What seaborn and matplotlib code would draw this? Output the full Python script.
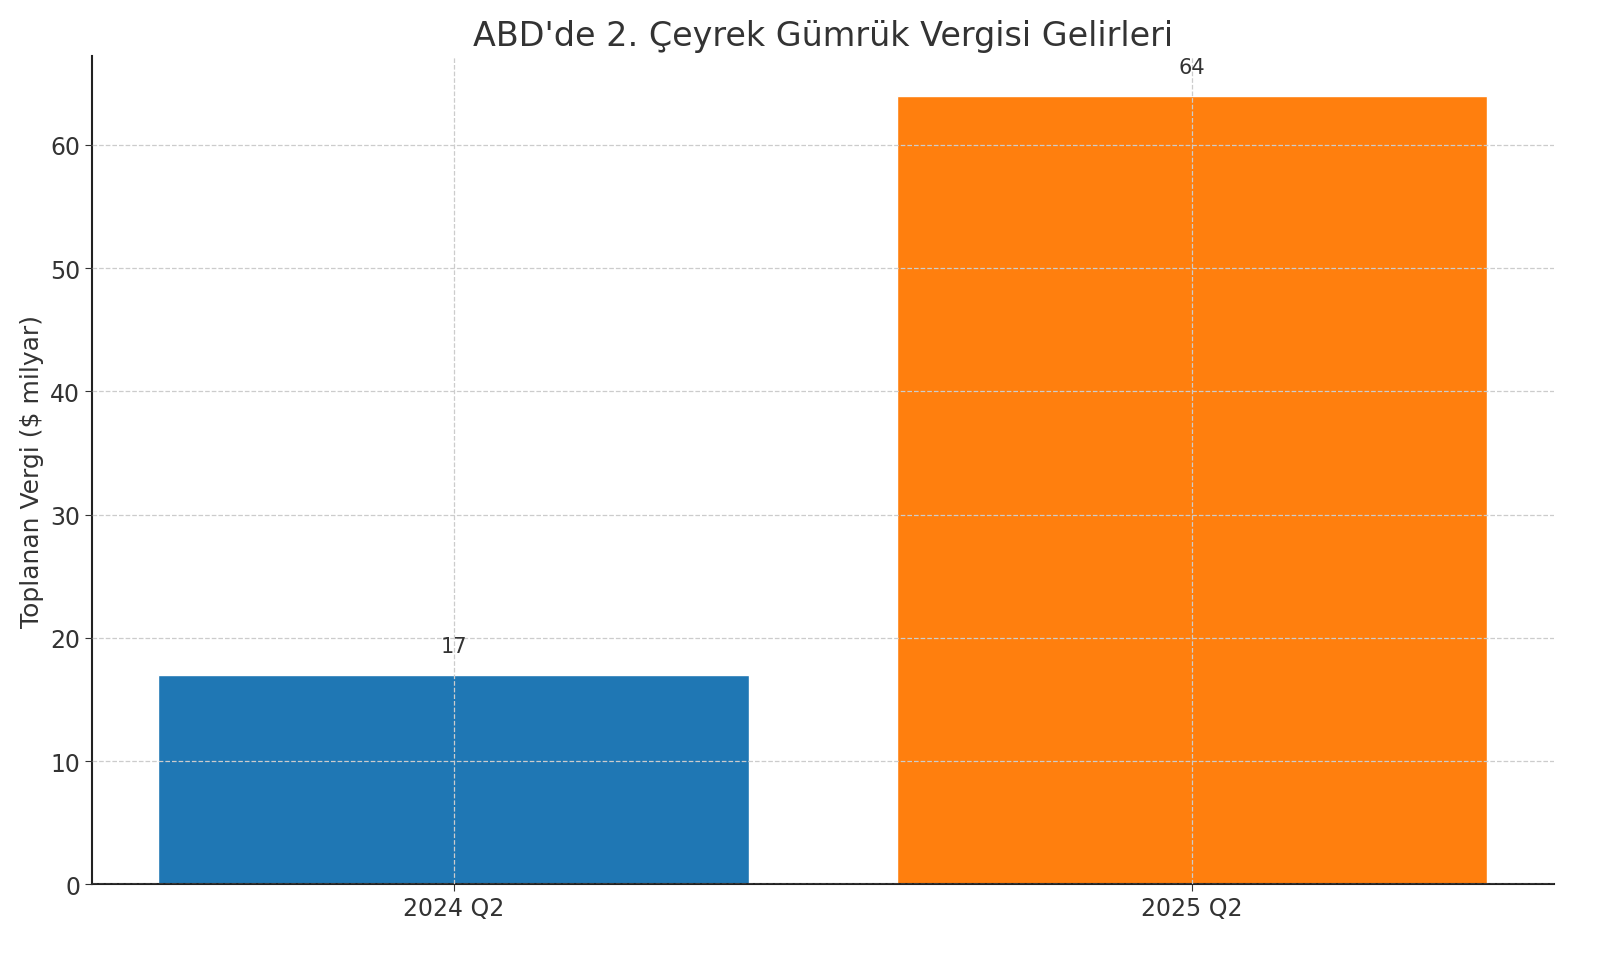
import matplotlib
matplotlib.use("Agg")
import matplotlib.pyplot as plt
import seaborn as sns
import pandas as pd

categories = ["2024 Q2", "2025 Q2"]
values = [17, 64]
colors = ["#1f77b4", "#ff7f0e"]

sns.set_style("white")
plt.rcParams['font.family'] = ['DejaVu Sans']
df = pd.DataFrame({"q": categories, "v": values})
fig, ax = plt.subplots(figsize=(16, 9.54), dpi=100)
fig.subplots_adjust(left=0.0575, right=0.971, top=0.94, bottom=0.072)
sns.barplot(data=df, x="q", y="v", hue="q", palette=colors, width=0.8, saturation=1, ax=ax, legend=False)
ax.margins(x=0.05, y=0.05)
ax.set_xlim(-0.49, 1.49)
ax.set_ylim(0, 67.2)
for i, v in enumerate(values):
    ax.text(i, v + 1.5, str(v), ha="center", va="bottom", fontsize=15, color="#333333")
ax.grid(True, linestyle="--", color="#cccccc", linewidth=0.9)
ax.set_axisbelow(False)
for s in ["top", "right"]:
    ax.spines[s].set_visible(False)
for s in ["left", "bottom"]:
    ax.spines[s].set_color("#222222")
    ax.spines[s].set_linewidth(1.5)
ax.set_title("ABD'de 2. Çeyrek Gümrük Vergisi Gelirleri", fontsize=24, color="#333333", pad=8)
ax.set_ylabel("Toplanan Vergi ($ milyar)", fontsize=18, color="#333333")
ax.set_xlabel("")
ax.tick_params(axis="both", labelsize=17, colors="#333333", left=True, bottom=True, length=5)
fig.savefig("out.png")
